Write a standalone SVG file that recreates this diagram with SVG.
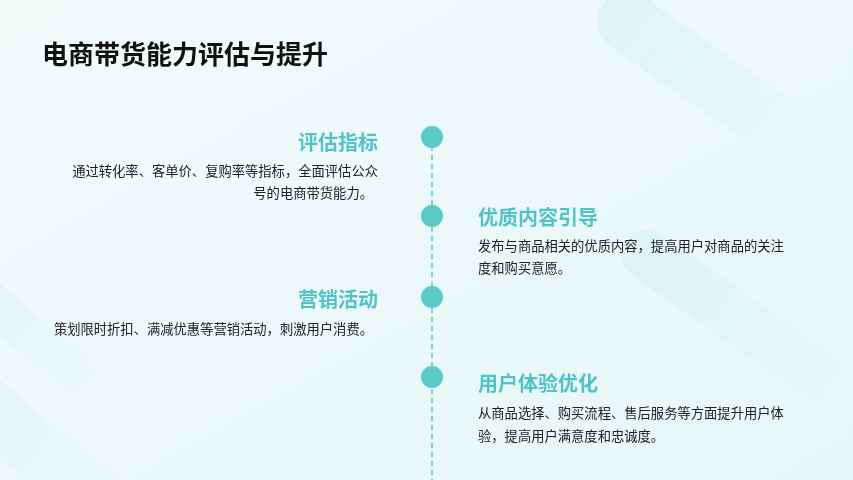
<svg xmlns="http://www.w3.org/2000/svg" width="853" height="480" viewBox="0 0 853 480">
<defs>
<linearGradient id="bg" x1="0" y1="0" x2="1" y2="1">
<stop offset="0" stop-color="#f3fbfb"/><stop offset="1" stop-color="#e6f6f6"/>
</linearGradient>
<linearGradient id="band" x1="0" y1="0" x2="1" y2="0">
<stop offset="0" stop-color="#d3f0f0" stop-opacity="0.9"/><stop offset="1" stop-color="#d3f0f0" stop-opacity="0"/>
</linearGradient>
<style>
.t{font-family:"Noto Sans CJK SC","Liberation Sans",sans-serif;}
.h{font-size:20px;font-weight:bold;fill:#4fc3c6;}
.d{font-size:13.3px;fill:#222;}
.dot{fill:#5cc8c8;}
</style>
</defs>
<rect width="853" height="480" fill="url(#bg)"/>
<g opacity="0.6">
<rect x="640" y="220" width="260" height="50" rx="25" fill="url(#band)" transform="rotate(35 640 220)"/>
<rect x="620" y="-20" width="300" height="60" rx="30" fill="url(#band)" transform="rotate(35 620 -20)"/>
<rect x="-60" y="330" width="260" height="60" rx="30" fill="url(#band)" transform="rotate(40 -60 330)"/>
<rect x="-40" y="250" width="200" height="40" rx="20" fill="url(#band)" transform="rotate(40 -40 250)"/>
</g>
<text class="t" x="42" y="64" font-size="26" font-weight="bold" fill="#111">电商带货能力评估与提升</text>
<g id="connectors">
<line x1="432" y1="137" x2="432" y2="480" stroke="#5cc8c8" stroke-width="1.5" stroke-dasharray="5,4"/>
</g>
<g id="n1">
<circle class="dot" cx="432" cy="137" r="11"/>
<text class="t h" x="378" y="150" text-anchor="end">评估指标</text>
<text class="t d" x="378" y="176" text-anchor="end">通过转化率、客单价、复购率等指标，全面评估公众</text>
<text class="t d" x="373" y="198" text-anchor="end">号的电商带货能力。</text>
</g>
<g id="n2">
<circle class="dot" cx="432" cy="216" r="11"/>
<text class="t h" x="478" y="225">优质内容引导</text>
<text class="t d" x="478" y="251">发布与商品相关的优质内容，提高用户对商品的关注</text>
<text class="t d" x="478" y="273">度和购买意愿。</text>
</g>
<g id="n3">
<circle class="dot" cx="432" cy="297" r="11"/>
<text class="t h" x="378" y="307" text-anchor="end">营销活动</text>
<text class="t d" x="373" y="334" text-anchor="end">策划限时折扣、满减优惠等营销活动，刺激用户消费。</text>
</g>
<g id="n4">
<circle class="dot" cx="432" cy="377" r="11"/>
<text class="t h" x="478" y="391">用户体验优化</text>
<text class="t d" x="478" y="418">从商品选择、购买流程、售后服务等方面提升用户体</text>
<text class="t d" x="478" y="441">验，提高用户满意度和忠诚度。</text>
</g>
</svg>
